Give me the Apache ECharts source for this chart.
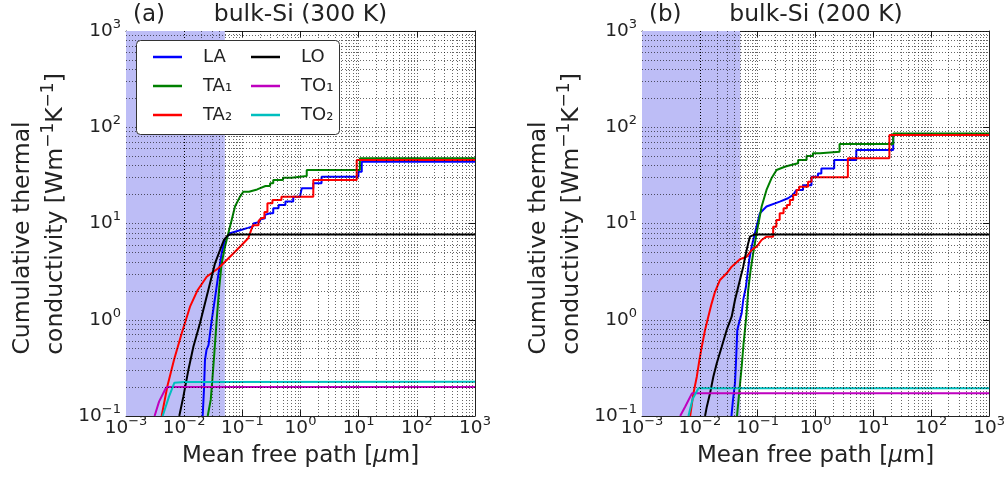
<!DOCTYPE html>
<html><head><meta charset="utf-8">
<script src="https://cdn.jsdelivr.net/npm/echarts@6/dist/echarts.min.js"></script>
<style>html,body{margin:0;padding:0;background:#fff}#c{width:1008px;height:478px}</style>
</head><body><div id="c"></div>
<script>
// ---------- data ----------
const X_TICK_EXP = [-3, -2, -1, 0, 1, 2, 3];
const Y_TICK_EXP = [-1, 0, 1, 2, 3];
const GRID_MANTISSA = [1, 2, 3, 4, 5, 6, 7, 8, 9];
const SHADE_MAX = 0.05;
const PANEL_TAGS = ['(a)', '(b)'];
const PANEL_TITLES = ['bulk-Si (300 K)', 'bulk-Si (200 K)'];
const SERIES_NAMES = ['LA', 'TA₁', 'TA₂', 'LO', 'TO₁', 'TO₂'];

// 300 K
const LA_300 = [[0.0208,0.1],[0.0219,0.186],[0.0228,0.382],[0.0242,0.485],[0.0262,0.546],[0.0298,0.99],[0.0339,1.68],[0.0386,2.92],[0.0441,4.9],[0.0503,6.74],[0.0614,7.92],[0.0912,8.5],[0.125,9.0],[0.155,9.4],[0.155,10.0],[0.2,10.4],[0.2,11.0],[0.244,11.3],[0.244,12.3],[0.3,12.8],[0.34,12.8],[0.34,14.4],[0.42,14.4],[0.42,15.6],[0.55,15.6],[0.55,16.9],[0.75,16.9],[0.75,19.0],[0.98,19.0],[0.98,19.9],[1.05,19.9],[1.05,23.2],[1.66,23.2],[1.66,26.2],[2.3,26.2],[2.3,30.6],[9.9,30.6],[9.9,34.5],[11.3,34.5],[11.3,43.9],[1000,43.9]];
const TA1_300 = [[0.0254,0.1],[0.0286,0.147],[0.0305,0.237],[0.033,0.448],[0.0362,0.99],[0.0402,2.2],[0.0441,3.86],[0.0503,5.74],[0.0574,7.91],[0.0656,10.9],[0.0748,15.0],[0.0912,19.0],[0.104,21.4],[0.13,21.4],[0.13,22.3],[0.18,22.6],[0.18,23.6],[0.25,24.5],[0.3,24.5],[0.3,26.2],[0.34,26.2],[0.34,28.3],[0.5,28.3],[0.5,29.8],[0.7,29.8],[0.7,31.2],[1.28,31.2],[1.28,36.0],[10.5,36.0],[10.5,47.5],[1000,47.5]];
const TA2_300 = [[0.0041,0.1],[0.00513,0.202],[0.00668,0.382],[0.00908,0.723],[0.0126,1.367],[0.0171,2.04],[0.0244,2.8],[0.0386,3.43],[0.0503,4.01],[0.0748,5.09],[0.0975,5.98],[0.126,7.02],[0.1355,7.9],[0.152,9.6],[0.19,9.6],[0.19,10.6],[0.214,11.4],[0.24,11.4],[0.24,13.2],[0.27,13.2],[0.27,16.2],[0.33,16.2],[0.33,17.5],[0.47,17.5],[0.47,19.0],[1.66,19.0],[1.66,28.3],[9.25,28.3],[9.25,45.7],[1000,45.7]];
const LO_300 = [[0.00824,0.1],[0.00966,0.158],[0.0118,0.3],[0.0144,0.525],[0.0187,0.918],[0.0228,1.48],[0.0278,2.39],[0.0339,3.86],[0.0413,5.3],[0.0482,6.74],[0.0572,7.6],[0.066,7.7],[1000,7.7]];
const TO1_300 = [[0.0031,0.1],[0.0037,0.141],[0.0049,0.198],[0.0055,0.2],[1000,0.2]];
const TO2_300 = [[0.00427,0.1],[0.0055,0.16],[0.0068,0.222],[0.01,0.225],[1000,0.227]];

// 200 K
const LA_200 = [[0.0352,0.1],[0.0374,0.147],[0.0405,0.219],[0.0423,0.382],[0.0444,0.784],[0.0474,0.918],[0.0528,1.167],[0.0562,1.604],[0.0626,2.2],[0.0658,2.8],[0.0714,4.18],[0.0785,5.74],[0.0895,7.92],[0.102,10.9],[0.109,12.8],[0.142,15.0],[0.241,16.9],[0.335,18.3],[0.409,19.8],[0.466,22.3],[0.608,22.3],[0.608,25.0],[0.85,25.0],[0.85,30.6],[1.1,30.6],[1.1,33.1],[1.26,33.1],[1.26,37.2],[2.1,37.2],[2.1,45.7],[5.06,45.7],[5.06,58.0],[22,58.0],[22,83.5],[1000,83.5]];
const TA1_200 = [[0.0439,0.1],[0.0466,0.147],[0.0493,0.21],[0.0532,0.34],[0.0567,0.55],[0.0602,0.784],[0.0643,1.167],[0.0686,2.04],[0.0755,3.29],[0.0836,4.9],[0.0957,7.92],[0.106,10.9],[0.117,15.0],[0.142,22.3],[0.173,29.5],[0.212,36.0],[0.294,38.9],[0.35,40.0],[0.35,41.5],[0.5,42.2],[0.5,45.7],[0.7,45.7],[0.7,50.2],[0.9,50.2],[0.9,53.6],[1.2,53.6],[1.2,55.7],[2.6,55.7],[2.6,67.0],[22,67.0],[22,86.0],[1000,86.0]];
const TA2_200 = [[0.0068,0.1],[0.00774,0.172],[0.00886,0.256],[0.00983,0.382],[0.0108,0.525],[0.0123,0.784],[0.014,1.076],[0.016,1.48],[0.0183,1.95],[0.0223,2.59],[0.0291,3.04],[0.0355,3.56],[0.0493,4.25],[0.0644,4.52],[0.0785,5.3],[0.0957,5.74],[0.1167,6.74],[0.142,7.3],[0.185,7.3],[0.185,9.27],[0.21,9.27],[0.21,10.9],[0.24,10.9],[0.24,12.8],[0.28,12.8],[0.28,14.4],[0.32,14.4],[0.32,15.6],[0.36,15.6],[0.36,17.5],[0.41,17.5],[0.41,19.8],[0.47,19.8],[0.47,22.3],[0.52,22.3],[0.52,24.1],[0.742,24.1],[0.742,27.2],[0.85,27.2],[0.85,30.2],[3.62,30.2],[3.62,47.5],[18.9,47.5],[18.9,83.0],[1000,83.0]];
const LO_200 = [[0.0123,0.1],[0.0132,0.125],[0.015,0.172],[0.0171,0.256],[0.0196,0.353],[0.0239,0.525],[0.0291,0.784],[0.0355,1.076],[0.0405,1.604],[0.0493,2.59],[0.0562,3.56],[0.0626,4.9],[0.0686,6.22],[0.0734,7.3],[0.0895,7.7],[1000,7.7]];
const TO1_200 = [[0.00457,0.1],[0.00557,0.125],[0.0073,0.172],[1000,0.172]];
const TO2_200 = [[0.00635,0.1],[0.0075,0.15],[0.00944,0.194],[1000,0.194]];

const PANEL_DATA = [
  [LA_300, TA1_300, TA2_300, LO_300, TO1_300, TO2_300],
  [LA_200, TA1_200, TA2_200, LO_200, TO1_200, TO2_200]
];

// ---------- styling ----------
const FONT = "'DejaVu Sans', sans-serif";
const TXT = '#222';
const COLORS = ['#0000ff', '#008000', '#ff0000', '#000000', '#bf00bf', '#00bfbf'];
const GRIDS = [
  { left: 126, top: 31, width: 349, height: 385 },
  { left: 642, top: 31, width: 348, height: 385 }
];

function expLabel(v) {
  const e = Math.round(Math.log10(v));
  return '{b|10}{s|' + (e < 0 ? '\u2212' + (-e) : e) + '}';
}
const labelRich = {
  b: { fontSize: 18.5, fontFamily: FONT, color: TXT, lineHeight: 26 },
  s: { fontSize: 13, fontFamily: FONT, color: TXT, lineHeight: 13, verticalAlign: 'top' }
};

function gridLines(expArr, key) {
  const out = [];
  for (let k = 0; k < expArr.length - 1; k++) {
    for (const m of GRID_MANTISSA) {
      if (m === 1 && k === 0) continue;
      const o = {}; o[key] = m * Math.pow(10, expArr[k]);
      out.push(o);
    }
  }
  return out;
}

const xMin = Math.pow(10, X_TICK_EXP[0]), xMax = Math.pow(10, X_TICK_EXP[X_TICK_EXP.length - 1]);
const yMin = Math.pow(10, Y_TICK_EXP[0]), yMax = Math.pow(10, Y_TICK_EXP[Y_TICK_EXP.length - 1]);

const xAxes = [], yAxes = [], series = [], graphics = [];
for (let p = 0; p < 2; p++) {
  const common = {
    type: 'log', logBase: 10, gridIndex: p,
    axisLine: { show: true, onZero: false, lineStyle: { color: TXT, width: 1 } },
    axisTick: { show: true, inside: true, length: 6, lineStyle: { color: TXT } },
    splitLine: { show: false }
  };
  xAxes.push(Object.assign({}, common, {
    position: 'bottom', min: xMin, max: xMax, splitNumber: X_TICK_EXP.length - 1,
    axisLabel: { show: true, margin: -1, formatter: expLabel, rich: labelRich, showMinLabel: true, showMaxLabel: true, hideOverlap: false },
    name: 'Mean free path [{i|\u03bc}m]', nameLocation: 'middle', nameGap: 29,
    nameTextStyle: { fontSize: 23, fontFamily: FONT, color: TXT, rich: { i: { fontSize: 23, fontFamily: FONT, color: TXT, fontStyle: 'italic' } } }
  }));
  xAxes.push(Object.assign({}, common, {
    position: 'top', min: xMin, max: xMax, splitNumber: X_TICK_EXP.length - 1,
    axisLabel: { show: false }
  }));
  yAxes.push(Object.assign({}, common, {
    position: 'left', min: yMin, max: yMax, splitNumber: Y_TICK_EXP.length - 1,
    axisLabel: { show: true, margin: 5, formatter: expLabel, rich: labelRich, showMinLabel: true, showMaxLabel: true }
  }));
  yAxes.push(Object.assign({}, common, {
    position: 'right', min: yMin, max: yMax, splitNumber: Y_TICK_EXP.length - 1,
    axisLabel: { show: false }
  }));
  const xi = 2 * p, yi = 2 * p;
  // shaded region
  series.push({
    type: 'line', xAxisIndex: xi, yAxisIndex: yi, data: [], z: 1, silent: true,
    markArea: { silent: true, itemStyle: { color: '#bdbdf6' }, data: [[{ xAxis: xMin }, { xAxis: SHADE_MAX }]] }
  });
  // dotted grid
  series.push({
    type: 'line', xAxisIndex: xi, yAxisIndex: yi, data: [], z: 2, silent: true,
    markLine: {
      silent: true, symbol: ['none', 'none'], label: { show: false }, animation: false,
      lineStyle: { color: '#000', width: 1, type: [1, 2], opacity: 0.6 },
      emphasis: { disabled: true },
      data: gridLines(X_TICK_EXP, 'xAxis').concat(gridLines(Y_TICK_EXP, 'yAxis'))
    }
  });
  PANEL_DATA[p].forEach((d, k) => {
    series.push({
      name: SERIES_NAMES[k], type: 'line', xAxisIndex: xi, yAxisIndex: yi, data: d,
      symbol: 'none', showSymbol: false, z: 3 + k * 0.01,
      lineStyle: { color: COLORS[k], width: 2 }, itemStyle: { color: COLORS[k] },
      emphasis: { disabled: true }
    });
  });
  const g = GRIDS[p];
  const cx = g.left + g.width / 2;
  graphics.push({ type: 'text', x: g.left + 7, y: 15, z: 50,
    style: { text: PANEL_TAGS[p], fontSize: 23, fontFamily: FONT, fill: TXT, textAlign: 'left', textVerticalAlign: 'middle' } });
  graphics.push({ type: 'text', x: cx, y: 15, z: 50,
    style: { text: PANEL_TITLES[p], fontSize: 23.5, fontFamily: FONT, fill: TXT, textAlign: 'center', textVerticalAlign: 'middle' } });
  graphics.push({ type: 'text', x: g.left - 103, y: 238, rotation: Math.PI / 2, z: 50,
    style: { text: 'Cumulative thermal', fontSize: 23.5, fontFamily: FONT, fill: TXT, textAlign: 'center', textVerticalAlign: 'middle' } });
  graphics.push({ type: 'text', x: g.left - 70, y: 214, rotation: Math.PI / 2, z: 50,
    style: { text: 'conductivity [Wm{s|\u22121}K{s|\u22121}]', fontSize: 23.5, fontFamily: FONT, fill: TXT, lineHeight: 32,
      textAlign: 'center', textVerticalAlign: 'middle',
      rich: { s: { fontSize: 17, fontFamily: FONT, fill: TXT, lineHeight: 17, verticalAlign: 'top' } } } });
}
// legend box
graphics.push({ type: 'rect', z: 50, shape: { x: 136.5, y: 40.5, width: 203, height: 94, r: 4 },
  style: { fill: '#fff', stroke: '#333', lineWidth: 1 } });

const legendBase = {
  orient: 'vertical', top: 42, itemWidth: 29, itemHeight: 2.5, itemGap: 9, z: 60,
  icon: 'rect', selectedMode: false,
  textStyle: { fontSize: 18, fontFamily: FONT, color: TXT, padding: [0, 0, 0, 16], lineHeight: 20 }
};

const chart = echarts.init(document.getElementById('c'), null, { renderer: 'canvas' });
chart.setOption({
  animation: false,
  backgroundColor: '#fff',
  grid: GRIDS,
  xAxis: xAxes,
  yAxis: yAxes,
  legend: [
    Object.assign({}, legendBase, { left: 148, data: SERIES_NAMES.slice(0, 3) }),
    Object.assign({}, legendBase, { left: 246, data: SERIES_NAMES.slice(3, 6) })
  ],
  graphic: graphics,
  series: series
});
</script>
</body></html>
